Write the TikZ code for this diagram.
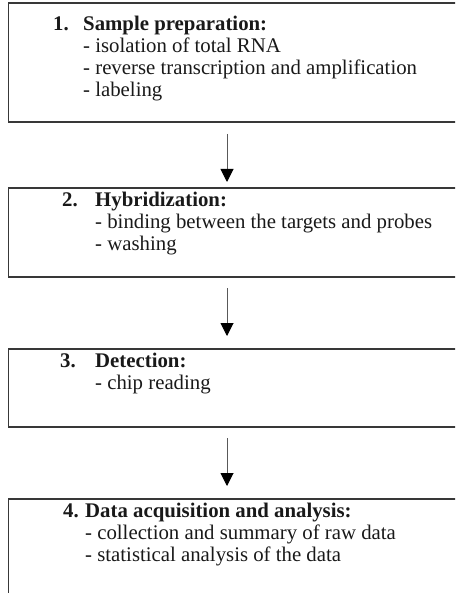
\documentclass[tikz,border=0pt]{standalone}
\usepackage{fontspec}
\setmainfont{Liberation Serif}
\usetikzlibrary{arrows.meta, positioning}

\newcommand{\numlabel}[2]{\llap{\makebox[#2][l]{\textbf{#1}}}}

\begin{document}
\begin{tikzpicture}[
  x=1pt, y=-1pt,
  node distance=66pt,
  stepbox/.style={rectangle, draw=black!78, line width=1.3pt, outer sep=0pt, inner sep=0pt, minimum width=470pt},
  steptext/.style={anchor=base west, inner sep=0pt, text=black!90, font=\fontsize{20.8}{22}\selectfont},
  flow/.style={-{Triangle[width=13pt,length=13pt,black]}, draw=black!65, line width=1pt}
]

\useasboundingbox (0,0) rectangle (455,593);
\clip (0,0) rectangle (455,593);

% Boxes
\node[stepbox, minimum height=119pt, anchor=north west] (s1) at (8.5,3) {};
\node[stepbox, minimum height=89pt, below=66pt of s1] (s2) {};
\node[stepbox, minimum height=78pt, below=72pt of s2] (s3) {};
\node[stepbox, minimum height=120pt, below=72pt of s3] (s4) {};

% Texts (first baseline at the anchor)
\node[steptext] (t1) at ([shift={(74.5,28)}]s1.north west)
  {\begin{tabular}[t]{@{}l@{}}
   \numlabel{1.}{30pt}\textbf{Sample preparation:}\\
   - isolation of total RNA\\
   - reverse transcription and amplification\\
   - labeling
   \end{tabular}};
\node[steptext] (t2) at ([shift={(86.5,19)}]s2.north west)
  {\begin{tabular}[t]{@{}l@{}}
   \numlabel{2.}{33pt}\textbf{Hybridization:}\\
   - binding between the targets and probes\\
   - washing
   \end{tabular}};
\node[steptext] (t3) at ([shift={(86.5,18)}]s3.north west)
  {\begin{tabular}[t]{@{}l@{}}
   \numlabel{3.}{35pt}\textbf{Detection:}\\
   - chip reading
   \end{tabular}};
\node[steptext] (t4) at ([shift={(76.5,18)}]s4.north west)
  {\begin{tabular}[t]{@{}l@{}}
   \numlabel{4.}{22pt}\textbf{Data acquisition and analysis:}\\
   - collection and summary of raw data\\
   - statistical analysis of the data
   \end{tabular}};

% Arrows
\draw[flow, shorten <=12pt, shorten >=6pt] ([xshift=-16.5pt]s1.south) -- ([xshift=-16.5pt]s2.north);
\draw[flow, shorten <=11pt, shorten >=13pt] ([xshift=-16.5pt]s2.south) -- ([xshift=-16.5pt]s3.north);
\draw[flow, shorten <=11pt, shorten >=13pt] ([xshift=-16.5pt]s3.south) -- ([xshift=-16.5pt]s4.north);

\end{tikzpicture}
\end{document}
